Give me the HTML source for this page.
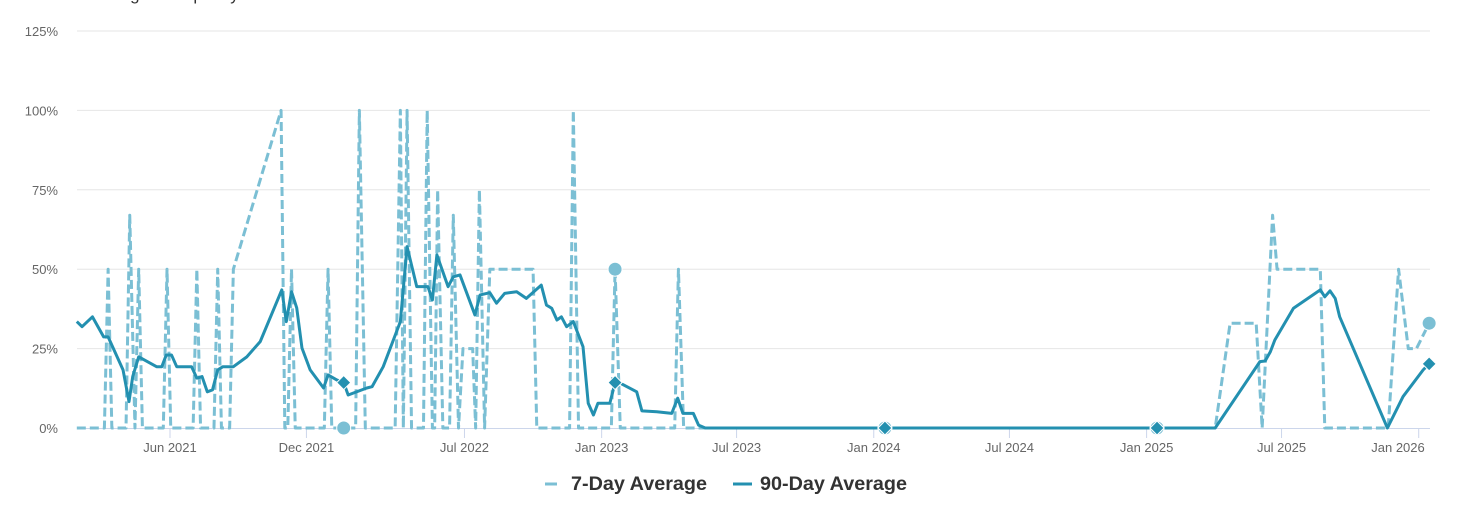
<!DOCTYPE html>
<html><head><meta charset="utf-8"><style>
html,body{margin:0;padding:0;background:#fff;overflow:hidden}
svg{display:block;font-family:"Liberation Sans",sans-serif}
</style></head><body>
<svg id="chart" width="1469" height="507" viewBox="0 0 1469 507" xmlns="http://www.w3.org/2000/svg">
<text x="86" y="0" font-size="17" fill="#333">Average Occupancy</text>
<g id="grid"></g>
<g id="xaxis"></g>
<g id="yaxis"></g>
<g id="series"></g>
<g id="legend">
<g>
<line x1="545" y1="484" x2="557" y2="484" stroke="#7bbfd4" stroke-width="3"/>
<text x="571" y="490" font-size="19.8" font-weight="bold" fill="#333">7-Day Average</text>
</g>
<g>
<line x1="733" y1="484" x2="752" y2="484" stroke="#2390b0" stroke-width="3"/>
<text x="760" y="490" font-size="19.8" font-weight="bold" fill="#333">90-Day Average</text>
</g>
</g>
</svg>
<script>
// days since 2021-06-01
const yTicks = [0,25,50,75,100,125];
const xTickDays = [0,183,395,579,760,944,1126,1310,1491,1675];
const xTickLabels = ["Jun 2021","Dec 2021","Jul 2022","Jan 2023","Jul 2023","Jan 2024","Jul 2024","Jan 2025","Jul 2025","Jan 2026"];
const avg90Days = [-125,-118,-104,-89,-83,-63,-55,-50,-42,-18,-11,-5,2,9,29,36,43,50,57,64,71,85,103,121,150,156,163,170,177,188,206,212,224,233,239,264,271,286,309,318,331,346,352,358,373,380,389,409,416,429,438,449,465,478,498,505,512,519,525,532,541,554,561,568,574,590,597,604,626,633,653,673,681,688,702,709,718,959,1324,1402,1462,1469,1476,1482,1507,1543,1549,1556,1563,1569,1633,1654,1681,1689];
const avg90Values = [33.5,31.9,35.0,28.7,28.7,18.3,8.3,16.2,22.4,19.3,19.3,23.0,23.0,19.3,19.3,15.7,16.2,11.4,12.0,18.3,19.3,19.3,22.4,27.2,43.5,33.5,42.9,37.8,25.2,18.3,12.6,16.7,15.1,14.3,10.4,12.6,13.0,19.3,33.5,57.1,44.5,44.5,40.3,54.5,44.5,47.6,48.2,35.6,41.9,42.6,39.3,42.4,42.9,40.8,45.0,38.7,37.7,34.0,35.0,31.9,33.5,25.6,7.8,4.1,7.8,7.8,14.3,14.1,11.4,5.4,5.1,4.6,9.4,4.6,4.6,0.9,0,0,0,0,20.9,21.1,24.0,27.7,37.7,43.5,41.3,43.2,40.8,35.0,0,9.9,18.3,20.2];
const avg7Days = [-125,-88,-83,-78,-59,-54,-47,-42,-37,-9,-4,1,31,36,41,59,64,69,80,85,149,154,158,163,168,207,212,217,232,249,254,262,302,309,313,318,324,340,345,352,355,359,366,375,380,387,393,406,410,415,422,429,487,492,536,541,548,592,597,604,677,682,689,1402,1422,1457,1465,1479,1485,1543,1549,1634,1648,1661,1672,1689];
const avg7Values = [0,0,50,0,0,67,0,50,0,0,50,0,0,50,0,0,50,0,0,50,100,0,0,50,0,0,50,0,0,0,100,0,0,100,0,100,0,0,100,0,0,75,0,0,67,0,25,25,0,75,0,50,50,0,0,100,0,0,50,0,0,50,0,0,33,33,0,67,50,50,0,0,50,25,25,33];
const markerDays = [233,597,959,1324,1689];

const X0=170, PXD=0.7455, Y0=428, PXV=3.176, L=77, R=1430;
const xs = d => X0 + d*PXD;
const ys = v => Y0 - v*PXV;
const NS="http://www.w3.org/2000/svg";
function mk(tag, attrs, parent){const e=document.createElementNS(NS,tag);for(const k in attrs)e.setAttribute(k,attrs[k]);parent.appendChild(e);return e;}
function interp(days, vals, d){for(let i=1;i<days.length;i++){if(d<=days[i]){const t=(d-days[i-1])/(days[i]-days[i-1]);return vals[i-1]+t*(vals[i]-vals[i-1]);}}return vals[vals.length-1];}

const grid=document.getElementById('grid'), ya=document.getElementById('yaxis'), xa=document.getElementById('xaxis'), se=document.getElementById('series');
yTicks.forEach(v=>{
  if(v>0){const g=mk('line',{x1:L,x2:R,y1:ys(v),y2:ys(v),stroke:'#e6e6e6','stroke-width':1},grid);
  
  }
  const t=mk('text',{x:58,y:ys(v)+5,'text-anchor':'end','font-size':13,fill:'#666'},ya);
  t.textContent=v+'%';
  
  
});
const base=mk('line',{x1:L,x2:R,y1:Y0+0.5,y2:Y0+0.5,stroke:'#ccd6eb','stroke-width':1},xa);


xTickDays.forEach((d,i)=>{
  const tk=mk('line',{x1:xs(d),x2:xs(d),y1:Y0,y2:Y0+10,stroke:'#ccd6eb','stroke-width':1},xa);
  
  
  const t=mk('text',{x:Math.min(xs(d),1398),y:452,'text-anchor':'middle','font-size':13,fill:'#666'},xa);
  t.textContent=xTickLabels[i];
  
  
});
const p7=mk('polyline',{points:avg7Days.map((d,i)=>xs(d)+','+ys(avg7Values[i])).join(' '),fill:'none',stroke:'#7bbfd4','stroke-width':3,'stroke-dasharray':'9,4','stroke-linejoin':'round'},se);


const p90=mk('polyline',{points:avg90Days.map((d,i)=>xs(d)+','+ys(avg90Values[i])).join(' '),fill:'none',stroke:'#2390b0','stroke-width':3,'stroke-linejoin':'round'},se);


markerDays.forEach(d=>{
  const x=xs(d);
  const c=mk('circle',{cx:x,cy:ys(interp(avg7Days,avg7Values,d)),r:7,fill:'#7bbfd4',stroke:'#fff','stroke-width':1},se);
  
  
  const y=ys(interp(avg90Days,avg90Values,d));
  const m=mk('path',{d:`M${x},${y-7}L${x+7},${y}L${x},${y+7}L${x-7},${y}Z`,fill:'#2390b0',stroke:'#fff','stroke-width':1},se);
  
  
});
</script>
</body></html>
